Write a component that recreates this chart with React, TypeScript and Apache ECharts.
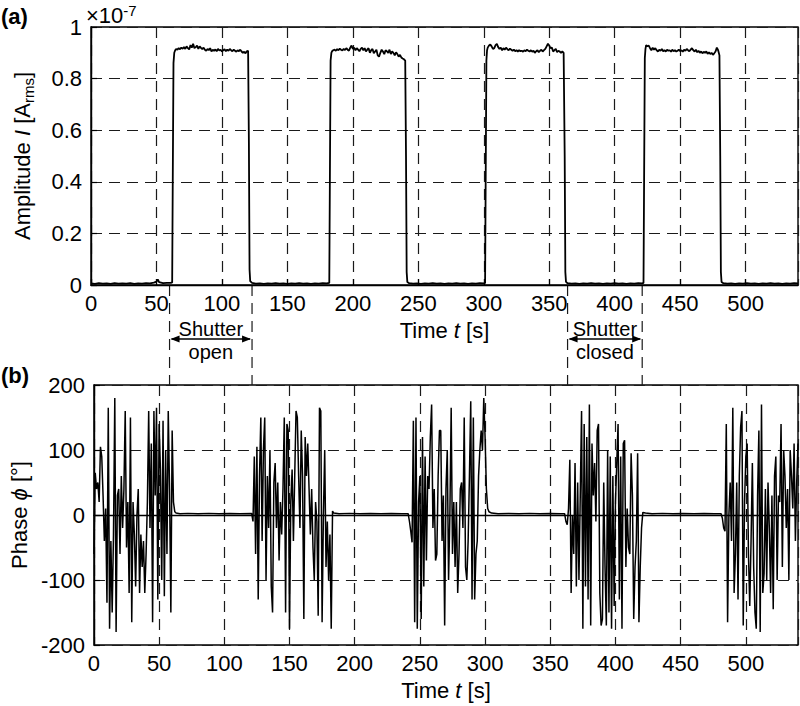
import React, { useEffect, useRef } from "react";
import * as echarts from "echarts";

const FONT = "'Liberation Sans', Arial, Helvetica, sans-serif";

// ---------- Axis settings ----------
const timeMin = 0;
const timeMax = 540;
const timeInterval = 50;
const ampMin = 0;
const ampMax = 1;
const ampInterval = 0.2;
const phaseMin = -200;
const phaseMax = 200;
const phaseInterval = 100;

// ---------- Amplitude I (units of 1e-7 A_rms) ----------
const ampBase0: [number, number][] = [[0,0.006],[3,0.004],[6,0.007],[9,0.005],[12,0.006],[15,0.004],[18,0.007],[21,0.005],[24,0.006],[27,0.005],[30,0.007],[33,0.004],[36,0.006],[39,0.005],[42,0.007],[45,0.006],[48,0.009],[50,0.013],[51,0.022],[52,0.011],[55,0.007],[58,0.008],[61,0.008],[62,0.01]];
const ampRise1: [number, number][] = [[62.5,0.45],[63,0.86],[63.6,0.9],[64.3,0.91]];
const ampPlateau1Start = 65;
const ampPlateau1 = [0.915,0.912,0.918,0.914,0.92,0.916,0.922,0.915,0.925,0.918,0.913,0.93,0.92,0.935,0.918,0.922,0.928,0.915,0.925,0.919,0.914,0.92,0.912,0.908,0.915,0.91,0.918,0.905,0.912,0.908,0.913,0.906,0.915,0.909,0.912,0.905,0.91,0.914,0.906,0.912,0.908,0.915,0.91,0.906,0.912,0.908,0.904,0.91,0.906,0.912,0.905,0.9,0.904,0.898,0.906,0.908];
const ampFall1: [number, number][] = [[120.6,0.55],[121.1,0.06],[121.6,0.015]];
const ampBase1: [number, number][] = [[123,0.008],[126,0.005],[129,0.006],[132,0.004],[135,0.006],[138,0.005],[141,0.007],[144,0.005],[147,0.006],[150,0.004],[153,0.006],[156,0.005],[159,0.007],[162,0.005],[165,0.006],[168,0.004],[171,0.006],[174,0.005],[177,0.007],[180,0.006],[182,0.008]];
const ampRise2: [number, number][] = [[182.5,0.45],[183,0.87],[183.6,0.9]];
const ampPlateau2Start = 184;
const ampPlateau2 = [0.905,0.91,0.912,0.908,0.914,0.91,0.916,0.912,0.909,0.915,0.911,0.918,0.912,0.908,0.92,0.928,0.915,0.92,0.91,0.918,0.912,0.906,0.915,0.92,0.91,0.918,0.905,0.912,0.918,0.9,0.91,0.915,0.898,0.905,0.912,0.89,0.885,0.9,0.912,0.905,0.895,0.91,0.906,0.9,0.912,0.895,0.905,0.9,0.89,0.902,0.895,0.885,0.892,0.882,0.878,0.875,0.87];
const ampFall2: [number, number][] = [[240.6,0.5],[241.1,0.05],[241.6,0.012]];
const ampBase2: [number, number][] = [[243,0.007],[246,0.005],[249,0.006],[252,0.004],[255,0.006],[258,0.005],[261,0.007],[264,0.005],[267,0.006],[270,0.004],[273,0.006],[276,0.005],[279,0.007],[282,0.005],[285,0.006],[288,0.004],[291,0.006],[294,0.005],[297,0.007],[300,0.006],[301,0.008]];
const ampRise3: [number, number][] = [[301.5,0.45],[302,0.87],[302.5,0.91]];
const ampPlateau3Start = 303;
const ampPlateau3 = [0.92,0.928,0.932,0.925,0.915,0.918,0.93,0.935,0.922,0.915,0.92,0.91,0.918,0.912,0.92,0.914,0.91,0.916,0.912,0.908,0.912,0.906,0.91,0.905,0.91,0.906,0.908,0.904,0.91,0.906,0.912,0.908,0.905,0.91,0.904,0.908,0.9,0.906,0.91,0.902,0.908,0.912,0.905,0.91,0.915,0.925,0.935,0.928,0.918,0.92,0.905,0.91,0.915,0.902,0.908,0.905,0.9,0.905,0.9];
const ampFall3: [number, number][] = [[361.8,0.5],[362.3,0.05],[362.8,0.012]];
const ampBase3: [number, number][] = [[364,0.007],[367,0.005],[370,0.006],[373,0.004],[376,0.006],[379,0.005],[382,0.007],[385,0.005],[388,0.006],[391,0.004],[394,0.006],[397,0.005],[400,0.007],[403,0.005],[406,0.006],[409,0.004],[412,0.006],[415,0.005],[418,0.007],[421,0.006],[422,0.008]];
const ampRise4: [number, number][] = [[422.5,0.45],[423,0.88],[423.5,0.915]];
const ampPlateau4Start = 424;
const ampPlateau4 = [0.93,0.925,0.928,0.918,0.91,0.92,0.912,0.918,0.91,0.905,0.912,0.908,0.915,0.906,0.91,0.905,0.912,0.908,0.91,0.904,0.912,0.906,0.91,0.905,0.908,0.912,0.906,0.91,0.904,0.912,0.908,0.915,0.91,0.906,0.912,0.918,0.91,0.905,0.912,0.902,0.908,0.9,0.905,0.898,0.904,0.9,0.905,0.896,0.902,0.895,0.9,0.892,0.898,0.905,0.92,0.91,0.89];
const ampFall4: [number, number][] = [[480.6,0.5],[481.1,0.05],[481.6,0.012]];
const ampBase4: [number, number][] = [[483,0.007],[486,0.005],[489,0.006],[492,0.004],[495,0.006],[498,0.005],[501,0.007],[504,0.005],[507,0.006],[510,0.004],[513,0.006],[516,0.005],[519,0.007],[522,0.005],[525,0.006],[528,0.004],[531,0.006],[534,0.005],[537,0.007],[540,0.006]];

// ---------- Phase (degrees), 1 s sampling in the noisy (shutter closed) intervals ----------
const phaseNoise1Start = 0;
const phaseNoise1 = [-60,65,40,50,20,105,90,30,-40,10,-135,165,-175,-40,-150,-30,180,-180,30,40,-60,60,-20,40,160,-50,20,-120,150,-165,20,-30,-110,0,40,-120,-30,-80,-40,-120,-60,20,160,-20,110,-165,160,30,165,-130,140,70,-100,145,-125,100,-60,160,40,-150,130,20];
const phaseFlat1: [number, number][] = [[62,5],[63,3],[66,2],[72,2.5],[80,2],[88,2.5],[96,1.8],[104,2.4],[112,2],[121,2.2]];
const phaseNoise2Start = 122;
const phaseNoise2 = [-10,90,-60,105,-130,60,150,-40,100,150,-100,60,-20,100,-110,-150,50,80,-20,50,-70,20,-30,40,150,-150,140,130,-175,20,70,-40,60,160,150,60,-20,130,60,-160,120,60,110,40,-30,40,-50,-100,20,-10,-155,165,160,-165,0,100,-80,-10,-100,-30,-175];
const phaseFlat2: [number, number][] = [[183,6],[184,3],[188,2],[196,2.5],[204,2],[212,2.4],[220,1.8],[228,2.3],[236,2],[241,2]];
const phaseNoise3Start = 242;
const phaseNoise3 = [-10,-25,-42,145,-165,150,-175,20,60,-160,120,-110,90,-70,60,40,120,170,-20,40,-70,-60,60,130,130,-40,30,-170,40,100,-100,0,165,-60,20,-80,20,-120,-60,40,50,-20,150,-80,-100,-40,60,175,-130,150,-130,-60,-40,60,100,130,100,180,120,40,10];
const phaseFlat3: [number, number][] = [[303,5],[305,3],[310,2],[318,2.4],[326,2],[334,2.5],[342,1.8],[350,2.3],[358,2],[361,2]];
const phaseNoise4Start = 362;
const phaseNoise4 = [-10,-15,10,85,-120,0,-60,80,-110,50,-100,30,160,-175,140,-110,120,-130,170,-170,110,30,80,-10,130,140,-120,-170,-160,50,-80,-170,100,-150,90,-175,60,-140,20,80,140,-130,90,-175,110,115,-80,10,-50,-60,95,30,-160,-80,-40,95,-165,-80,-20];
const phaseFlat4: [number, number][] = [[421,4],[423,3],[428,2],[436,2.5],[444,2],[452,2.4],[460,1.8],[468,2.3],[476,2],[481,2]];
const phaseNoise5Start = 482;
const phaseNoise5 = [-5,-20,-25,140,-165,0,50,-40,165,-120,-60,50,-130,60,135,160,-170,20,90,110,-60,-140,-40,80,-80,-150,-175,30,130,-180,170,-120,-90,40,-100,50,-20,-120,30,-145,60,90,-100,30,20,140,-80,100,60,-20,40,-100,100,60,10,110,-40,50,110];

// Shutter annotation intervals (s)
const shutterOpen = [60, 123];
const shutterClosed = [364, 421];

const sampled = (start: number, values: number[]): [number, number][] =>
  values.map((v, i) => [start + i, v] as [number, number]);

const amplitudeData: [number, number][] = [
  ...ampBase0, ...ampRise1, ...sampled(ampPlateau1Start, ampPlateau1), ...ampFall1,
  ...ampBase1, ...ampRise2, ...sampled(ampPlateau2Start, ampPlateau2), ...ampFall2,
  ...ampBase2, ...ampRise3, ...sampled(ampPlateau3Start, ampPlateau3), ...ampFall3,
  ...ampBase3, ...ampRise4, ...sampled(ampPlateau4Start, ampPlateau4), ...ampFall4,
  ...ampBase4,
];

const phaseData: [number, number][] = [
  ...sampled(phaseNoise1Start, phaseNoise1), ...phaseFlat1,
  ...sampled(phaseNoise2Start, phaseNoise2), ...phaseFlat2,
  ...sampled(phaseNoise3Start, phaseNoise3), ...phaseFlat3,
  ...sampled(phaseNoise4Start, phaseNoise4), ...phaseFlat4,
  ...sampled(phaseNoise5Start, phaseNoise5),
];

const FS = 22;
const AFS = 20;
const dashed = { type: [11, 7] as number[], color: "#1a1a1a", width: 1.2 };

const xAxisBase = (gridIndex: number) => ({
  type: "value" as const,
  gridIndex,
  min: timeMin,
  max: timeMax,
  interval: timeInterval,
  name: "Time {i|t} [s]",
  nameLocation: "middle" as const,
  nameGap: 34,
  nameTextStyle: {
    color: "#000",
    fontFamily: FONT,
    fontSize: FS,
    rich: { i: { fontStyle: "italic", fontFamily: FONT, fontSize: FS, color: "#000" } },
  },
  axisLine: { show: true, lineStyle: { color: "#000", width: 1.4 } },
  axisTick: { show: true, inside: true, length: 6, lineStyle: { color: "#000", width: 1.2 } },
  axisLabel: { color: "#000", fontFamily: FONT, fontSize: FS, margin: 7, showMaxLabel: false },
  splitLine: { show: true, lineStyle: dashed },
});

export default function App() {
  const ref = useRef<HTMLDivElement>(null);

  useEffect(() => {
    if (!ref.current) return;
    const chart = echarts.init(ref.current, null, { renderer: "svg" });
    const option: any = {
      animation: false,
      backgroundColor: "#fff",
      textStyle: { fontFamily: FONT },
      grid: [
        { left: 84, top: 27, width: 714, height: 258, show: true, borderColor: "#000", borderWidth: 1.4, backgroundColor: "transparent" },
        { left: 84, top: 385, width: 714, height: 260, show: true, borderColor: "#000", borderWidth: 1.4, backgroundColor: "transparent" },
      ],
      xAxis: [xAxisBase(0), xAxisBase(1)],
      yAxis: [
        {
          type: "value",
          gridIndex: 0,
          min: ampMin,
          max: ampMax,
          interval: ampInterval,
          name: "Amplitude {i|I} [A{sub|rms}]",
          nameLocation: "middle",
          nameGap: 55,
          nameRotate: 90,
          nameTextStyle: {
            color: "#000",
            fontFamily: FONT,
            fontSize: FS,
            lineHeight: 28,
            rich: {
              i: { fontStyle: "italic", fontFamily: FONT, fontSize: FS, color: "#000", lineHeight: 28 },
              sub: { fontFamily: FONT, fontSize: 15, color: "#000", verticalAlign: "bottom", lineHeight: 15 },
            },
          },
          axisLine: { show: true, lineStyle: { color: "#000", width: 1.4 } },
          axisTick: { show: true, inside: true, length: 6, lineStyle: { color: "#000", width: 1.2 } },
          axisLabel: { color: "#000", fontFamily: FONT, fontSize: FS, margin: 9 },
          splitLine: { show: true, lineStyle: dashed },
        },
        {
          type: "value",
          gridIndex: 1,
          min: phaseMin,
          max: phaseMax,
          interval: phaseInterval,
          name: "Phase {i|ϕ} [°]",
          nameLocation: "middle",
          nameGap: 55,
          nameRotate: 90,
          nameTextStyle: {
            color: "#000",
            fontFamily: FONT,
            fontSize: FS,
            rich: { i: { fontStyle: "italic", fontFamily: FONT, fontSize: FS, color: "#000" } },
          },
          axisLine: { show: true, lineStyle: { color: "#000", width: 1.4 } },
          axisTick: { show: true, inside: true, length: 6, lineStyle: { color: "#000", width: 1.2 } },
          axisLabel: { color: "#000", fontFamily: FONT, fontSize: FS, margin: 9 },
          splitLine: { show: true, lineStyle: dashed },
        },
      ],
      series: [
        {
          type: "line",
          xAxisIndex: 0,
          yAxisIndex: 0,
          data: amplitudeData,
          showSymbol: false,
          symbol: "none",
          lineStyle: { color: "#000", width: 1.8 },
          z: 5,
        },
        {
          type: "line",
          xAxisIndex: 1,
          yAxisIndex: 1,
          data: phaseData,
          showSymbol: false,
          symbol: "none",
          lineStyle: { color: "#000", width: 1.5 },
          z: 5,
        },
      ],
    };
    chart.setOption(option);

    const px = (t: number) => chart.convertToPixel({ xAxisIndex: 0 }, t) as number;
    const yTopBottom = chart.convertToPixel({ yAxisIndex: 0 }, ampMin) as number;
    const yBotTop = chart.convertToPixel({ yAxisIndex: 1 }, phaseMax) as number;
    const arrowY = yTopBottom + 54;

    const annotation = (range: number[], lower: string) => {
      const x1 = px(range[0]);
      const x2 = px(range[1]);
      const cx = (x1 + x2) / 2;
      const ah = 9;
      const aw = 3.5;
      return [
        { type: "line", shape: { x1, y1: yTopBottom, x2: x1, y2: yBotTop }, style: { stroke: "#1a1a1a", lineWidth: 1.2, lineDash: [11, 7] }, silent: true },
        { type: "line", shape: { x1: x2, y1: yTopBottom, x2, y2: yBotTop }, style: { stroke: "#1a1a1a", lineWidth: 1.2, lineDash: [11, 7] }, silent: true },
        { type: "line", shape: { x1: x1 + 2, y1: arrowY, x2: x2 - 2, y2: arrowY }, style: { stroke: "#000", lineWidth: 1.5 }, silent: true },
        { type: "polygon", shape: { points: [[x1 + 1, arrowY], [x1 + 1 + ah, arrowY - aw], [x1 + 1 + ah, arrowY + aw]] }, style: { fill: "#000" }, silent: true },
        { type: "polygon", shape: { points: [[x2 - 1, arrowY], [x2 - 1 - ah, arrowY - aw], [x2 - 1 - ah, arrowY + aw]] }, style: { fill: "#000" }, silent: true },
        { type: "text", x: cx, y: arrowY - 10, style: { text: "Shutter", fill: "#000", font: `${AFS}px ${FONT}`, textAlign: "center", textVerticalAlign: "middle" }, silent: true },
        { type: "text", x: cx, y: arrowY + 13, style: { text: lower, fill: "#000", font: `${AFS}px ${FONT}`, textAlign: "center", textVerticalAlign: "middle" }, silent: true },
      ];
    };

    chart.setOption({
      graphic: [
        ...annotation(shutterOpen, "open"),
        ...annotation(shutterClosed, "closed"),
        { type: "text", x: 1, y: 16, style: { text: "(a)", fill: "#000", font: `bold ${FS}px ${FONT}`, textVerticalAlign: "middle" }, silent: true },
        { type: "text", x: 1, y: 375, style: { text: "(b)", fill: "#000", font: `bold ${FS}px ${FONT}`, textVerticalAlign: "middle" }, silent: true },
        {
          type: "text",
          x: 86,
          y: 3,
          style: {
            text: "×10{sup|-7}",
            fill: "#000",
            font: `${FS}px ${FONT}`,
            rich: { sup: { fontSize: 15, fontFamily: FONT, fill: "#000", verticalAlign: "top", lineHeight: 15 } },
            lineHeight: 24,
            textVerticalAlign: "top",
          },
          silent: true,
        },
      ],
    });

    return () => chart.dispose();
  }, []);

  return (
    <div
      ref={ref}
      style={{ position: "absolute", left: 0, top: 0, width: 800, height: 706 }}
    />
  );
}
